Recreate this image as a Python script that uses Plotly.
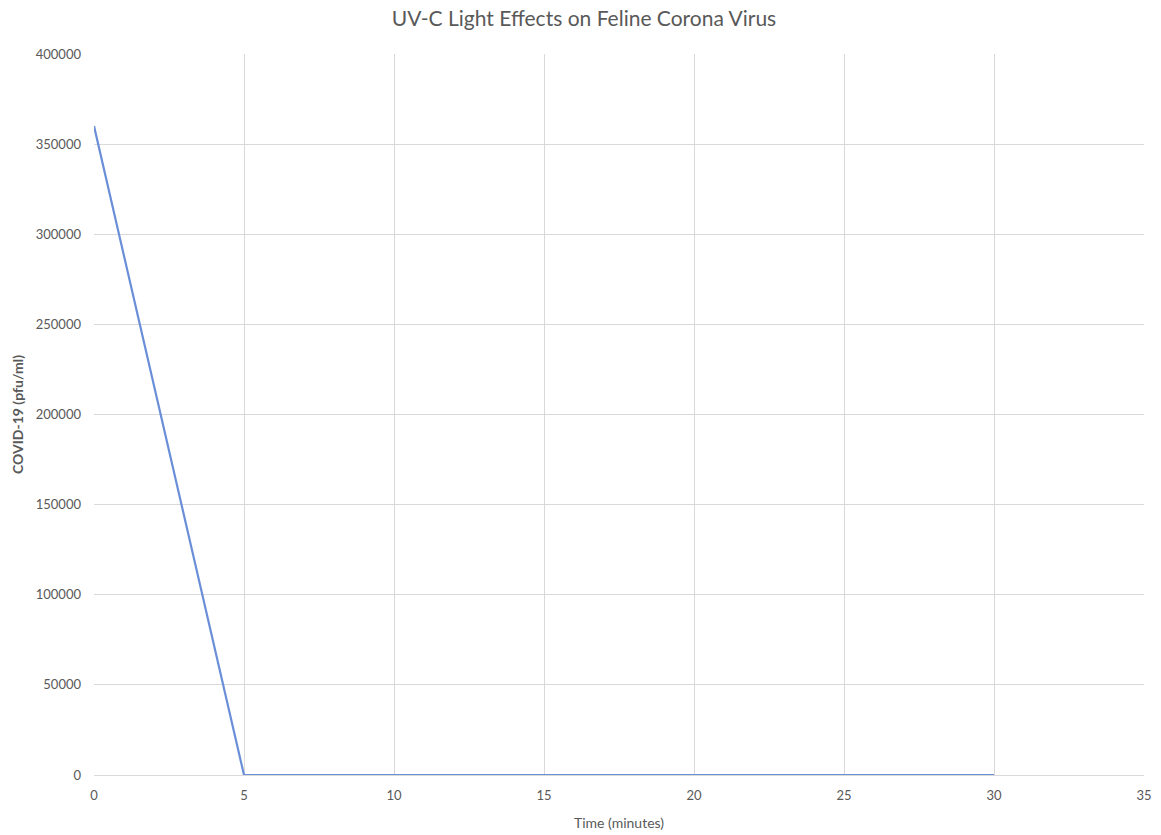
import plotly.graph_objects as go

# Exposure time (minutes) and measured virus titre
time_min = [0, 5, 10, 15, 20, 25, 30]
titre_pfu = [360000, 0, 0, 0, 0, 0, 0]

x_ticks = [0, 5, 10, 15, 20, 25, 30, 35]
y_ticks = [0, 50000, 100000, 150000, 200000, 250000, 300000, 350000, 400000]

grey = "#595959"
grid = "#d9d9d9"

fig = go.Figure(
    go.Scatter(
        x=time_min,
        y=titre_pfu,
        mode="lines",
        line=dict(color="#6a8fd8", width=2.2),
        showlegend=False,
    )
)

fig.update_layout(
    width=1161,
    height=835,
    margin=dict(l=94, r=17, t=54, b=60),
    paper_bgcolor="white",
    plot_bgcolor="white",
    font=dict(family="Lato, Open Sans, sans-serif", color=grey, size=13),
    title=dict(
        text="UV-C Light Effects on Feline Corona Virus",
        x=0.503,
        xanchor="center",
        y=0.978,
        yanchor="middle",
        font=dict(size=21, color=grey),
    ),
)

fig.update_xaxes(
    range=[0, 35],
    tickvals=x_ticks,
    ticktext=[str(v) for v in x_ticks],
    showgrid=True,
    gridcolor=grid,
    gridwidth=1,
    zeroline=False,
    showline=True,
    linecolor=grid,
    mirror=False,
    ticks="",
    automargin=False,
    ticklabelstandoff=8,
    tickfont=dict(size=13, color=grey),
    title=dict(text="Time (minutes)", font=dict(size=14, color=grey), standoff=16),
)

fig.update_yaxes(
    range=[0, 400000],
    tickvals=y_ticks,
    ticktext=[str(v) for v in y_ticks],
    showgrid=True,
    gridcolor=grid,
    gridwidth=1,
    zeroline=False,
    showline=False,
    ticks="",
    automargin=False,
    ticklabelstandoff=12,
    tickfont=dict(size=13, color=grey),
    title=dict(text="<b>COVID-19 (pfu/ml)</b>", font=dict(size=14, color=grey), standoff=8),
)

fig.write_html("out.html")
